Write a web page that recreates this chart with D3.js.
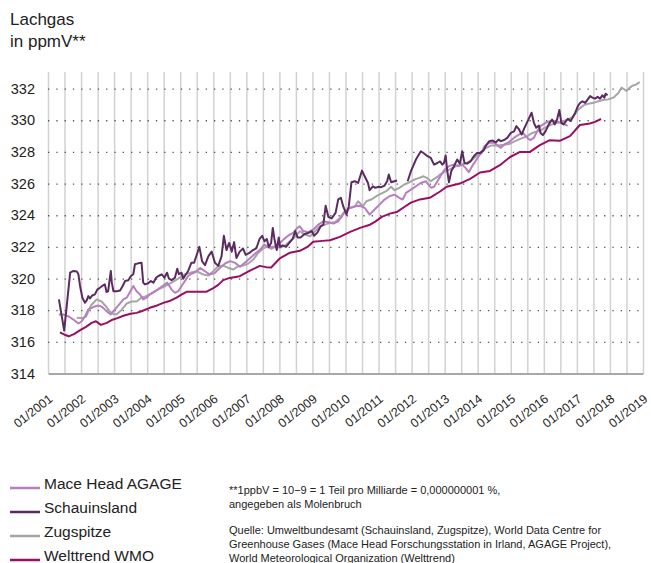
<!DOCTYPE html>
<html><head><meta charset="utf-8">
<script src="https://cdn.jsdelivr.net/npm/d3@7"></script>
<style>
body{margin:0;background:#fff;}
svg{display:block;font-family:"Liberation Sans",Arial,sans-serif;}
</style></head>
<body><svg id="c" width="651" height="563"></svg>
<script>
const yearTicks = d3.range(2001, 2020);
const yTicks = [314,316,318,320,322,324,326,328,330,332];

const maceHead = [[2001.33,317.73],[2001.46,317.73],[2001.61,317.62],[2001.77,317.41],[2001.92,317.16],[2002.02,317.3],[2002.12,317.62],[2002.22,318.05],[2002.37,318.2],[2002.52,318.3],[2002.64,318.2],[2002.77,317.94],[2002.9,317.73],[2002.98,317.94],[2003.13,318.3],[2003.28,318.68],[2003.38,318.79],[2003.48,319.15],[2003.58,319.53],[2003.68,319.2],[2003.78,319.0],[2003.88,318.68],[2003.98,318.79],[2004.08,319.0],[2004.24,319.2],[2004.39,319.42],[2004.5,319.57],[2004.6,319.74],[2004.66,319.57],[2004.74,319.3],[2004.84,319.1],[2004.94,319.2],[2005.04,319.53],[2005.14,319.84],[2005.24,320.16],[2005.34,320.3],[2005.45,320.4],[2005.6,320.67],[2005.75,320.46],[2005.9,320.25],[2006.05,320.36],[2006.2,320.67],[2006.36,320.95],[2006.51,321.1],[2006.66,320.99],[2006.81,320.74],[2006.97,321.03],[2007.12,321.3],[2007.27,321.58],[2007.42,321.83],[2007.54,322.15],[2007.67,322.0],[2007.82,322.0],[2007.97,322.15],[2008.12,322.46],[2008.27,322.72],[2008.42,322.88],[2008.54,323.2],[2008.62,323.3],[2008.72,323.0],[2008.88,322.93],[2009.03,323.1],[2009.18,323.41],[2009.33,323.62],[2009.48,323.56],[2009.63,323.47],[2009.78,323.62],[2009.9,323.95],[2009.98,324.25],[2010.13,324.46],[2010.28,324.57],[2010.43,324.6],[2010.58,324.46],[2010.73,324.04],[2010.88,324.36],[2011.03,324.67],[2011.18,324.99],[2011.33,325.2],[2011.48,325.3],[2011.63,325.1],[2011.73,324.99],[2011.83,325.41],[2011.98,325.62],[2012.13,325.83],[2012.28,326.04],[2012.43,326.15],[2012.53,325.87],[2012.6,325.73],[2012.68,325.8],[2012.78,326.15],[2012.88,326.5],[2013.0,326.88],[2013.13,327.1],[2013.28,327.2],[2013.43,327.1],[2013.53,327.2],[2013.63,326.99],[2013.73,326.72],[2013.83,327.1],[2013.93,327.41],[2014.03,327.73],[2014.13,327.98],[2014.2,328.36],[2014.35,328.58],[2014.5,328.58],[2014.6,328.4],[2014.7,328.26],[2014.8,328.47],[2014.95,328.62],[2015.1,328.9],[2015.25,329.1],[2015.37,329.2],[2015.45,329.0],[2015.53,328.83],[2015.6,328.75],[2015.7,328.9],[2015.8,329.3],[2015.9,329.63],[2016.05,329.84],[2016.2,329.95],[2016.35,329.95],[2016.5,329.84],[2016.63,329.74],[2016.72,329.65]];

const schauinsland = [[2001.33,318.68],[2001.49,316.71],[2001.67,320.37],[2001.77,320.48],[2001.87,320.44],[2001.92,320.27],[2001.97,319.53],[2002.04,318.79],[2002.12,318.47],[2002.17,318.62],[2002.22,318.89],[2002.27,318.74],[2002.34,318.93],[2002.42,319.0],[2002.49,319.3],[2002.57,319.42],[2002.64,319.53],[2002.72,319.63],[2002.77,319.15],[2002.82,319.2],[2002.9,320.48],[2002.93,319.74],[2002.98,319.2],[2003.08,319.2],[2003.18,319.25],[2003.26,319.53],[2003.33,319.84],[2003.43,319.89],[2003.51,320.16],[2003.58,320.27],[2003.63,320.9],[2003.73,320.96],[2003.83,321.0],[2003.88,319.74],[2003.93,319.63],[2004.03,319.7],[2004.11,319.84],[2004.19,319.74],[2004.27,320.05],[2004.34,320.16],[2004.44,320.27],[2004.52,320.05],[2004.6,320.37],[2004.66,319.99],[2004.74,319.9],[2004.84,320.05],[2004.91,320.62],[2004.96,320.27],[2005.04,320.37],[2005.09,319.99],[2005.14,320.16],[2005.24,320.48],[2005.34,321.0],[2005.42,321.0],[2005.5,321.5],[2005.58,322.0],[2005.66,321.1],[2005.75,320.85],[2005.85,321.4],[2005.95,321.7],[2006.05,321.0],[2006.15,320.8],[2006.25,321.4],[2006.32,322.7],[2006.4,321.8],[2006.48,322.25],[2006.56,321.7],[2006.63,322.3],[2006.7,321.3],[2006.8,321.7],[2006.9,321.9],[2006.98,321.5],[2007.08,321.6],[2007.2,321.8],[2007.3,321.9],[2007.4,322.5],[2007.48,322.7],[2007.55,322.35],[2007.62,322.5],[2007.68,322.0],[2007.75,322.25],[2007.8,323.2],[2007.85,322.5],[2007.92,321.8],[2007.98,322.6],[2008.02,322.0],[2008.1,322.1],[2008.2,322.0],[2008.3,322.25],[2008.4,322.5],[2008.48,323.0],[2008.55,322.6],[2008.65,322.6],[2008.75,322.8],[2008.82,322.85],[2008.9,322.9],[2008.98,323.0],[2009.05,322.7],[2009.15,322.9],[2009.25,323.3],[2009.33,323.4],[2009.4,324.6],[2009.48,323.9],[2009.58,323.8],[2009.7,324.15],[2009.78,325.0],[2009.86,325.1],[2009.93,324.57],[2010.03,324.04],[2010.1,324.57],[2010.18,326.08],[2010.28,326.15],[2010.38,326.04],[2010.5,326.82],[2010.58,326.46],[2010.68,326.04],[2010.73,325.58],[2010.83,325.83],[2010.9,325.73],[2011.0,325.8],[2011.08,325.77],[2011.18,325.87],[2011.26,326.15],[2011.31,326.57],[2011.38,326.08],[2011.48,326.15],[2011.56,326.19],null,[2011.88,326.15],[2011.98,326.78],[2012.13,327.52],[2012.28,328.04],[2012.38,327.9],[2012.48,327.73],[2012.58,327.62],[2012.68,327.2],[2012.78,327.3],[2012.86,327.4],[2012.93,327.2],[2012.98,327.3],[2013.03,327.77],[2013.08,326.78],[2013.13,326.08],[2013.2,326.78],[2013.28,327.1],[2013.38,327.52],[2013.46,327.26],[2013.53,328.04],[2013.6,327.3],[2013.68,327.26],[2013.78,327.4],[2013.88,327.73],[2013.98,327.94],[2014.08,327.94],[2014.18,328.1],[2014.25,328.4],[2014.35,328.68],[2014.45,328.72],[2014.55,328.6],[2014.63,328.78],[2014.7,328.68],[2014.8,328.75],[2014.9,328.9],[2015.0,329.2],[2015.1,329.3],[2015.17,329.63],[2015.25,329.42],[2015.33,329.1],[2015.4,329.46],[2015.5,329.9],[2015.63,330.48],[2015.7,329.84],[2015.77,329.53],[2015.85,329.67],[2015.9,329.2],[2015.97,329.06],[2016.05,329.3],[2016.15,329.74],[2016.25,330.05],[2016.33,329.74],[2016.4,330.05],[2016.47,330.65],[2016.53,329.84],[2016.6,329.74],[2016.67,329.95],[2016.73,330.1],[2016.8,329.95],[2016.87,330.16],[2016.95,330.48],[2017.03,330.9],[2017.1,331.1],[2017.17,331.2],[2017.25,331.1],[2017.33,331.32],[2017.4,331.53],[2017.47,331.43],[2017.55,331.37],[2017.63,331.48],[2017.7,331.37],[2017.77,331.58],[2017.83,331.43],[2017.87,331.68],[2017.93,331.58]];

const zugspitze = [[2001.87,317.52],[2001.95,317.5],[2002.05,317.5],[2002.15,317.6],[2002.3,318.3],[2002.47,318.68],[2002.62,318.55],[2002.77,318.2],[2002.88,317.9],[2002.98,317.76],[2003.08,317.75],[2003.23,318.03],[2003.38,318.42],[2003.53,318.55],[2003.68,318.55],[2003.83,318.8],[2003.93,318.85],[2004.14,319.06],[2004.34,319.32],[2004.55,319.53],[2004.74,319.74],[2004.94,319.99],[2005.14,320.27],[2005.3,320.36],[2005.5,320.46],[2005.7,320.25],[2005.85,320.19],[2006.0,320.46],[2006.15,320.78],[2006.3,320.82],[2006.46,320.67],[2006.61,320.57],[2006.76,320.78],[2006.91,320.82],[2007.06,320.95],[2007.21,321.2],[2007.36,321.62],[2007.49,321.87],[2007.61,322.0],[2007.76,321.87],[2007.87,322.0],[2008.02,321.94],[2008.17,322.08],[2008.32,322.36],[2008.47,322.63],[2008.62,322.99],[2008.77,322.78],[2008.93,322.67],[2009.08,322.99],[2009.23,323.3],[2009.38,323.41],[2009.53,323.52],[2009.68,323.55],[2009.83,323.83],[2009.98,324.25],[2010.13,324.46],[2010.28,324.53],[2010.38,324.88],[2010.53,324.57],[2010.63,324.88],[2010.78,324.99],[2010.93,325.2],[2011.08,325.37],[2011.23,325.52],[2011.38,325.8],[2011.48,325.58],[2011.63,325.73],[2011.78,325.94],[2011.93,326.08],[2012.08,326.25],[2012.23,326.36],[2012.36,326.46],[2012.46,326.36],[2012.58,326.15],[2012.68,326.3],[2012.78,326.42],[2012.86,326.57],[2013.0,326.75],[2013.2,326.95],[2013.4,327.15],[2013.6,327.25],[2013.8,327.45],[2014.0,327.8],[2014.2,328.2],[2014.4,328.4],[2014.6,328.4],[2014.8,328.45],[2014.95,328.5],[2015.1,328.65],[2015.25,328.79],[2015.5,329.0],[2015.65,329.2],[2015.8,329.3],[2015.95,329.42],[2016.1,329.6],[2016.25,329.74],[2016.4,329.84],[2016.55,329.89],[2016.67,330.0],[2016.75,330.05],[2016.9,330.27],[2017.05,330.69],[2017.2,330.94],[2017.35,331.05],[2017.5,331.1],[2017.65,331.2],[2017.8,331.28],[2017.95,331.32],[2018.1,331.43],[2018.25,331.7],[2018.35,332.06],[2018.43,331.96],[2018.5,331.85],[2018.6,332.06],[2018.7,332.2],[2018.8,332.27],[2018.9,332.42]];

const wmo = [[2001.36,316.6],[2001.5,316.45],[2001.63,316.35],[2001.8,316.5],[2001.96,316.72],[2002.15,316.95],[2002.32,317.2],[2002.45,317.3],[2002.6,317.07],[2002.78,317.2],[2002.95,317.4],[2003.1,317.5],[2003.28,317.65],[2003.5,317.78],[2003.68,317.83],[2003.85,317.95],[2004.08,318.15],[2004.3,318.3],[2004.49,318.46],[2004.7,318.6],[2004.89,318.8],[2005.05,319.0],[2005.19,319.16],[2005.4,319.17],[2005.6,319.16],[2005.8,319.17],[2006.0,319.4],[2006.15,319.6],[2006.3,319.9],[2006.5,320.04],[2006.8,320.15],[2007.11,320.5],[2007.41,320.8],[2007.6,320.72],[2007.75,320.7],[2008.01,321.27],[2008.32,321.63],[2008.62,321.75],[2008.85,322.0],[2009.02,322.32],[2009.3,322.38],[2009.53,322.42],[2009.83,322.63],[2010.14,322.95],[2010.44,323.2],[2010.74,323.4],[2010.9,323.6],[2011.1,323.9],[2011.34,324.1],[2011.55,324.2],[2011.8,324.55],[2011.98,324.8],[2012.25,325.0],[2012.55,325.1],[2012.86,325.5],[2013.06,325.8],[2013.46,326.0],[2013.77,326.3],[2014.07,326.7],[2014.37,326.8],[2014.67,327.16],[2014.98,327.68],[2015.28,328.0],[2015.58,328.0],[2015.88,328.43],[2016.18,328.74],[2016.48,328.7],[2016.79,329.0],[2017.09,329.7],[2017.39,329.8],[2017.55,329.9],[2017.73,330.08]];

const seriesNames = ["Mace Head AGAGE","Schauinsland","Zugspitze","Welttrend WMO"];
const seriesColors = ["#b77fbf","#5b2b60","#a5a5a5","#9a0f62"];
const seriesData = [maceHead, schauinsland, zugspitze, wmo];
const drawOrder = [2,0,1,3];

const svg = d3.select("#c");
const x = d3.scaleLinear().domain([2001,2019]).range([48,643]);
const y = d3.scaleLinear().domain([314,333.05]).range([373.5,72]);

svg.append("text").attr("x",10).attr("y",25).attr("font-size",17).attr("fill","#222").text("Lachgas");
svg.append("text").attr("x",10).attr("y",47).attr("font-size",17).attr("fill","#222").text("in ppmV**");

// vertical grid (half-years)
const gx = svg.append("g").attr("transform","translate(0,373.5)")
  .call(d3.axisBottom(x).tickValues(d3.range(2001,2019.01,0.5)).tickSize(-(373.5-72)).tickFormat(""));
gx.select(".domain").remove();
gx.selectAll(".tick line").attr("stroke","#d2d2d2").attr("stroke-width",1.5);

// horizontal dotted grid
const gy = svg.append("g").attr("transform","translate(48,0)")
  .call(d3.axisLeft(y).tickValues(yTicks).tickSize(0).tickPadding(13));
gy.select(".domain").remove();
gy.selectAll(".tick text").attr("font-size",14.5).attr("fill","#222").attr("font-family","Liberation Sans, Arial, sans-serif");
gy.selectAll(".tick").filter(d=>d>314).append("line")
  .attr("x1",0).attr("x2",595).attr("stroke","#555").attr("stroke-width",1.3)
  .attr("stroke-dasharray","1.3,7");

// bottom axis
const gb = svg.append("g").attr("transform","translate(0,373.5)")
  .call(d3.axisBottom(x).tickValues(yearTicks).tickSize(0).tickFormat(d=>"01/"+d));
gb.select(".domain").attr("stroke","#a8a8a8").attr("stroke-width",2);
gb.selectAll(".tick text").attr("font-size",12.5).attr("fill","#222")
  .attr("font-family","Liberation Sans, Arial, sans-serif")
  .attr("text-anchor","end").attr("dy",0).attr("y",0)
  .attr("transform","translate(5,27) rotate(-38)");

const line = d3.line().defined(d=>d!==null).x(d=>x(d[0])).y(d=>y(d[1]));
drawOrder.forEach(i=>{
  svg.append("path").datum(seriesData[i]).attr("d",line)
    .attr("fill","none").attr("stroke",seriesColors[i]).attr("stroke-width",2)
    .attr("stroke-linejoin","round");
});

// legend
const lg = svg.append("g");
seriesNames.forEach((n,i)=>{
  const cy = 483 + i*24;
  lg.append("line").attr("x1",10).attr("x2",40).attr("y1",cy+5).attr("y2",cy+5)
    .attr("stroke",seriesColors[i]).attr("stroke-width",2.5);
  lg.append("text").attr("x",44).attr("y",cy+6).attr("font-size",15.5).attr("fill","#222").text(n);
});

const notes = ["**1ppbV = 10\u22129 = 1 Teil pro Milliarde = 0,000000001 %,","angegeben als Molenbruch"];
const src = ["Quelle: Umweltbundesamt (Schauinsland, Zugspitze), World Data Centre for","Greenhouse Gases (Mace Head Forschungsstation in Irland, AGAGE Project),","World Meteorological Organization (Welttrend)"];
notes.forEach((t,i)=>svg.append("text").attr("x",229).attr("y",494+i*14).attr("font-size",11).attr("fill","#222").text(t));
src.forEach((t,i)=>svg.append("text").attr("x",229).attr("y",534+i*14).attr("font-size",11).attr("fill","#222").text(t));
</script></body></html>
